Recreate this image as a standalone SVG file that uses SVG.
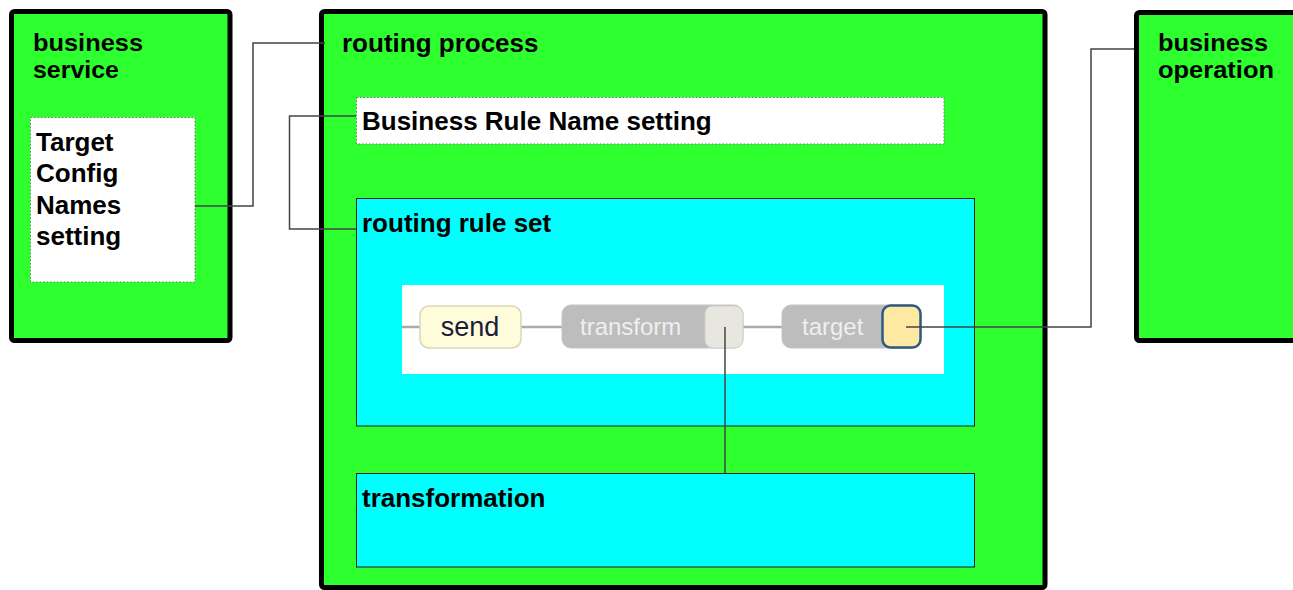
<svg xmlns="http://www.w3.org/2000/svg" width="1293" height="590" viewBox="0 0 1293 590">
<style>
.comp{fill:#2eff2e;stroke:#000;stroke-width:5}
.set{fill:#fff;stroke:#777;stroke-width:1;stroke-dasharray:1.5 2}
.inner{fill:#00ffff;stroke:#222;stroke-width:1}
.lbl{font-family:"Liberation Sans",Arial,sans-serif;font-weight:bold;font-size:26px;fill:#000}
.lbl2{font-family:"Liberation Sans",Arial,sans-serif;font-weight:bold;font-size:24px;fill:#000}
.conn{fill:none;stroke:#444;stroke-width:1.5}
.rail{stroke:#aaa;stroke-width:2.5}
.pill{fill:#bdbdbd;stroke:#c4c4c4;stroke-width:1}
.ptxt{font-family:"Liberation Sans",Arial,sans-serif;font-size:24px;fill:#efefef}
</style>
<rect width="1293" height="590" fill="#fff"/>
<g id="business-service">
<rect class="comp" x="11.5" y="11.5" width="218.5" height="329" rx="3"/>
<text class="lbl2" x="33" y="51" textLength="110" lengthAdjust="spacingAndGlyphs">business</text>
<text class="lbl2" x="33" y="78" textLength="86" lengthAdjust="spacingAndGlyphs">service</text>
</g>
<g id="target-config-names-setting">
<rect class="set" x="30.5" y="117.5" width="164.5" height="164.5"/>
<text class="lbl" x="36" y="150.5">Target</text>
<text class="lbl" x="36" y="182">Config</text>
<text class="lbl" x="36" y="213.5">Names</text>
<text class="lbl" x="36" y="245">setting</text>
</g>
<g id="routing-process">
<rect class="comp" x="321.5" y="11.5" width="723.5" height="576" rx="3"/>
<text class="lbl" x="342" y="52">routing process</text>
</g>
<g id="business-rule-name-setting">
<rect class="set" x="356.5" y="97.5" width="587.5" height="46.5"/>
<text class="lbl" x="362" y="130">Business Rule Name setting</text>
</g>
<g id="routing-rule-set">
<rect class="inner" x="356.5" y="198.5" width="618" height="227.5"/>
<text class="lbl" x="362" y="232">routing rule set</text>
<rect x="402" y="285" width="542" height="89" fill="#fff"/>
<line class="rail" x1="402" y1="327" x2="420" y2="327"/>
<line class="rail" x1="521" y1="327" x2="562" y2="327"/>
<line class="rail" x1="743" y1="327" x2="782" y2="327"/>
</g>
<g id="send">
<rect x="420" y="306" width="101" height="42" rx="9" fill="#fefcda" stroke="#d9d6b8" stroke-width="1.5"/>
<text x="470" y="336" text-anchor="middle" font-family="Liberation Sans,Arial,sans-serif" font-size="27px" fill="#1c1c38">send</text>
</g>
<g id="transform">
<rect class="pill" x="562" y="305" width="181" height="43" rx="9"/>
<text class="ptxt" x="580" y="335">transform</text>
<rect x="705" y="306" width="38" height="42" rx="8" fill="#e7e7e0" stroke="#cfcfcf" stroke-width="1"/>
</g>
<g id="target">
<rect class="pill" x="782" y="305" width="139" height="43" rx="9"/>
<text class="ptxt" x="802" y="335">target</text>
<rect x="882.5" y="305.5" width="38" height="42" rx="8" fill="#fde9a1" stroke="#2d5b80" stroke-width="2.5"/>
</g>
<g id="transformation">
<rect class="inner" x="356.5" y="473.5" width="618" height="93.5"/>
<text class="lbl" x="362" y="507">transformation</text>
</g>
<g id="business-operation">
<rect class="comp" x="1136.5" y="12.5" width="200" height="328" rx="3"/>
<text class="lbl2" x="1158" y="51" textLength="110" lengthAdjust="spacingAndGlyphs">business</text>
<text class="lbl2" x="1158" y="78" textLength="116" lengthAdjust="spacingAndGlyphs">operation</text>
</g>
<g id="connectors">
<polyline class="conn" points="195,206 253,206 253,43 325,43"/>
<polyline class="conn" points="356,116 289.5,116 289.5,229 356,229"/>
<polyline class="conn" points="906,327 1091,327 1091,49 1134,49"/>
<polyline class="conn" points="725,327 725,473"/>
</g>
</svg>
